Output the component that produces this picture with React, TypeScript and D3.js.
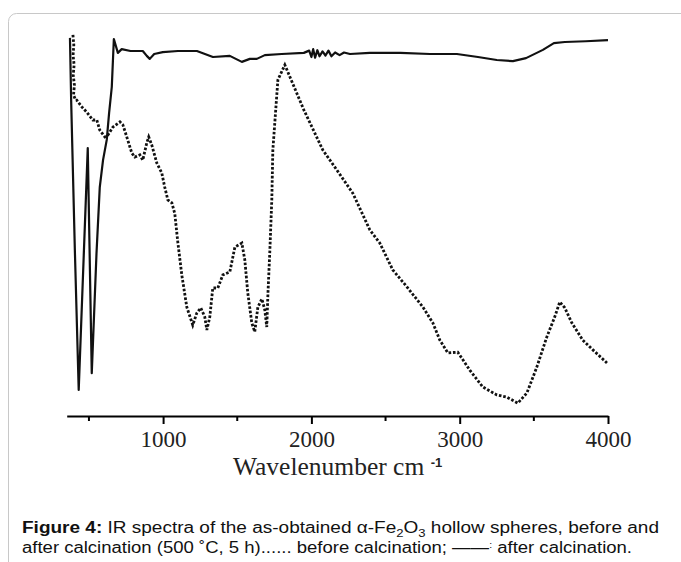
import React, { useRef, useEffect } from 'react';
import * as d3 from 'd3';

// IR spectra, transmittance in arbitrary units (0-100) vs wavenumber (cm-1)
const afterWave = [372, 380, 405, 431, 492, 519, 551, 573, 595, 620, 636, 654, 668, 695, 721, 780, 863, 890, 910, 940, 998, 1100, 1228, 1336, 1450, 1531, 1585, 1632, 1686, 1800, 1949, 1985, 2000, 2012, 2025, 2040, 2055, 2075, 2095, 2115, 2135, 2160, 2190, 2220, 2260, 2394, 2600, 2800, 2981, 3123, 3250, 3359, 3447, 3561, 3635, 3709, 3850, 4000];
const afterT = [97.9, 81.3, 41.3, 4.0, 68.5, 8.5, 40.5, 58.1, 65.3, 70.7, 77.9, 84.8, 97.6, 93.9, 94.9, 94.4, 94.4, 93.1, 92.3, 93.6, 94.1, 94.4, 94.4, 92.8, 93.1, 91.5, 92.3, 92.3, 93.3, 93.6, 93.9, 94.5, 92.8, 94.9, 92.6, 94.6, 93.0, 94.3, 93.2, 94.5, 93.0, 94.0, 93.3, 94.0, 93.6, 93.9, 93.9, 93.6, 93.6, 92.8, 92.0, 91.7, 92.5, 94.7, 96.5, 96.8, 97.0, 97.3];

const beforeWave = [392, 398, 393, 400, 394, 402, 396, 410, 418, 452, 485, 526, 553, 573, 607, 628, 661, 709, 729, 755, 789, 809, 843, 863, 890, 903, 924, 958, 991, 1011, 1032, 1059, 1079, 1099, 1126, 1160, 1200, 1227, 1254, 1281, 1295, 1315, 1335, 1369, 1403, 1450, 1484, 1531, 1551, 1571, 1598, 1618, 1639, 1666, 1686, 1699, 1706, 1720, 1733, 1740, 1774, 1821, 1949, 2077, 2171, 2279, 2394, 2461, 2549, 2644, 2752, 2819, 2866, 2920, 2987, 3068, 3156, 3250, 3317, 3392, 3453, 3520, 3587, 3641, 3675, 3709, 3756, 3830, 3898, 3993];
const beforeT = [98.7, 96.0, 93.3, 90.7, 88.0, 85.3, 82.7, 81.3, 81.3, 79.5, 78.1, 76.0, 76.0, 73.3, 71.5, 72.0, 74.1, 75.5, 74.7, 71.5, 67.2, 66.1, 66.7, 65.3, 69.9, 71.5, 69.3, 64.5, 61.9, 58.1, 54.7, 53.9, 51.0, 43.5, 34.7, 26.1, 21.3, 24.5, 25.9, 23.5, 20.0, 23.5, 31.2, 31.2, 34.7, 35.5, 42.1, 43.2, 38.7, 29.9, 21.9, 19.5, 26.1, 28.3, 25.3, 20.8, 28.8, 41.3, 54.7, 68.0, 86.7, 90.7, 78.7, 68.0, 62.7, 56.5, 46.7, 43.2, 36.0, 31.5, 26.1, 21.9, 17.3, 13.9, 14.1, 9.3, 4.8, 2.7, 2.1, 0.5, 3.2, 10.1, 18.1, 23.5, 27.5, 25.9, 21.9, 17.3, 14.7, 11.2];

const majorTicks = [1000, 2000, 3000, 4000];
const minorTicks = [500, 1500, 2500, 3500];

const W = 681;
const H = 562;

const IRChart = () => {
  const svgRef = useRef<SVGSVGElement>(null);

  useEffect(() => {
    const x = d3.scaleLinear().domain([350, 4000]).range([66.7, 608]);
    const y = d3.scaleLinear().domain([0, 100]).range([405, 30]);
    const axisY = 416;

    const svg = d3.select(svgRef.current).html('');

    // frame
    svg.append('rect')
      .attr('x', 8.5).attr('y', 13.5)
      .attr('width', 720).attr('height', 600)
      .attr('rx', 8)
      .attr('fill', '#fff')
      .attr('stroke', '#c8c8c8');

    // axis
    const ax = svg.append('g').attr('transform', `translate(0,${axisY})`);
    ax.call(d3.axisBottom(x).tickValues(majorTicks).tickSize(8).tickSizeOuter(0).tickFormat(d3.format('d')));
    ax.select('.domain').attr('stroke', '#000').attr('stroke-width', 2.2);
    ax.selectAll('.tick line').attr('stroke', '#000').attr('stroke-width', 2);
    ax.selectAll('.tick text')
      .attr('y', 31).attr('dy', null)
      .attr('fill', '#222')
      .attr('font-family', '"Liberation Serif", "Times New Roman", serif')
      .attr('font-size', 23);
    ax.selectAll('.minor')
      .data(minorTicks)
      .enter()
      .append('line')
        .attr('class', 'minor')
        .attr('x1', d => x(d)).attr('x2', d => x(d))
        .attr('y1', 0).attr('y2', 5)
        .attr('stroke', '#000').attr('stroke-width', 2);

    // axis title
    const title = svg.append('text')
      .attr('x', 233).attr('y', 475)
      .attr('fill', '#222')
      .attr('font-family', '"Liberation Serif", "Times New Roman", serif')
      .attr('font-size', 25.5);
    title.append('tspan').text('Wavelenumber cm ');
    title.append('tspan')
      .attr('font-family', '"Liberation Sans", Arial, sans-serif')
      .attr('font-weight', 'bold')
      .attr('font-size', 13)
      .attr('dy', -8)
      .text('-1');

    const line = d3.line<[number, number]>()
      .x(d => x(d[0]))
      .y(d => y(d[1]));

    // before calcination (dotted)
    svg.append('path')
      .attr('d', line(beforeWave.map((w, i) => [w, beforeT[i]] as [number, number])))
      .attr('fill', 'none')
      .attr('stroke', '#111')
      .attr('stroke-width', 2.8)
      .attr('stroke-dasharray', '2.6 1.8');

    // after calcination (solid)
    svg.append('path')
      .attr('d', line(afterWave.map((w, i) => [w, afterT[i]] as [number, number])))
      .attr('fill', 'none')
      .attr('stroke', '#111')
      .attr('stroke-width', 2.2)
      .attr('stroke-linejoin', 'round');

    // caption
    const capFont = '"Liberation Sans", Arial, sans-serif';
    const c1 = svg.append('text')
      .attr('x', 22).attr('y', 533)
      .attr('font-family', capFont).attr('font-size', 16).attr('fill', '#111')
      .attr('textLength', 637).attr('lengthAdjust', 'spacingAndGlyphs');
    c1.append('tspan').attr('font-weight', 'bold').text('Figure 4:');
    c1.append('tspan').text(' IR spectra of the as-obtained α-Fe');
    c1.append('tspan').attr('font-size', 11).attr('dy', 4).text('2');
    c1.append('tspan').attr('dy', -4).text('O');
    c1.append('tspan').attr('font-size', 11).attr('dy', 4).text('3');
    c1.append('tspan').attr('dy', -4).text(' hollow spheres, before and');

    const c2 = svg.append('text')
      .attr('x', 22).attr('y', 553)
      .attr('font-family', capFont).attr('font-size', 16).attr('fill', '#111')
      .attr('textLength', 610).attr('lengthAdjust', 'spacingAndGlyphs');
    c2.append('tspan').text('after calcination (500 ˚C, 5 h)...... before calcination; ——');
    c2.append('tspan').attr('font-size', 9).attr('dy', -5).text(':');
    c2.append('tspan').attr('dy', 5).text(' after calcination.');
  }, []);

  return (
    <svg
      ref={svgRef}
      width={W}
      height={H}
      style={{ position: 'absolute', left: 0, top: 0, background: '#fff' }}
    />
  );
};

export default function App() {
  return <IRChart />;
}
